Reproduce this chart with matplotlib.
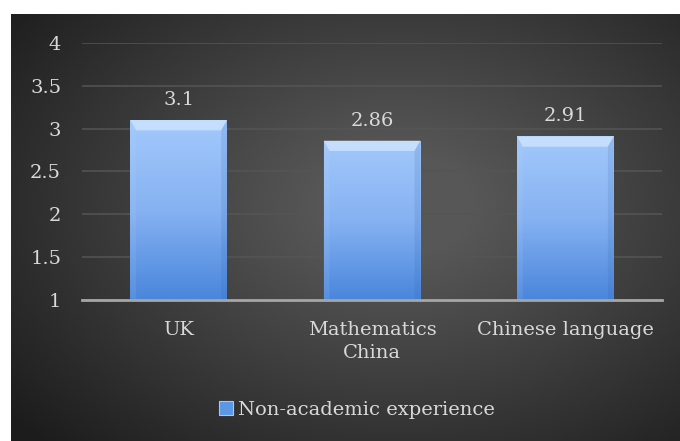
import numpy as np
import matplotlib.pyplot as plt
from matplotlib.patches import Patch, Polygon
from matplotlib.colors import LinearSegmentedColormap

categories = ['UK', 'Mathematics\nChina', 'Chinese language']
values = [3.1, 2.86, 2.91]
value_labels = ['3.1', '2.86', '2.91']
series_name = 'Non-academic experience'
yticks = [1, 1.5, 2, 2.5, 3, 3.5, 4]

txt = '#d9d9d9'
font = 'DejaVu Serif'
fs = 14

fig = plt.figure(figsize=(6.8, 4.41), dpi=100)
fig.patch.set_facecolor('white')

# dark background with a soft radial light in the middle
bg = fig.add_axes([11 / 680, 0, 669 / 680, 427 / 441])
bg.set_axis_off()
yy, xx = np.mgrid[0:1:300j, 0:1:460j]
d = np.sqrt(((xx - 0.58) / 0.75) ** 2 + ((yy - 0.45) / 0.8) ** 2)
shade = np.clip(1 - d, 0, 1)
bg_cmap = LinearSegmentedColormap.from_list('bg', ['#1c1c1c', '#3a3a3a', '#575757'])
bg.imshow(shade, cmap=bg_cmap, aspect='auto', extent=[0, 1, 0, 1], vmin=0, vmax=0.85)

ax = fig.add_axes([82 / 680, (441 - 300) / 441, 580 / 680, 257 / 441])
ax.patch.set_alpha(0)
x = np.arange(len(categories))
bars = ax.bar(x, values, width=0.5, bottom=0, color='none', edgecolor='none', zorder=3)
ax.set_ylim(1, 4)
ax.set_xlim(-0.5, len(categories) - 0.5)

bar_cmap = LinearSegmentedColormap.from_list('bar', ['#a3c9fb', '#86b2f2', '#4a86dc'])
grad = np.linspace(0, 1, 200).reshape(-1, 1)
for b in bars:
    x0, w, top = b.get_x(), b.get_width(), b.get_height()
    im = ax.imshow(grad, cmap=bar_cmap, aspect='auto', extent=[x0, x0 + w, 1, top],
                   origin='upper', zorder=3)
    im.set_clip_path(b)
    dx = w * 0.06
    dy = 0.12
    ax.add_patch(Polygon([[x0, top], [x0 + w, top], [x0 + w - dx, top - dy], [x0 + dx, top - dy]],
                         closed=True, facecolor='#d6e8ff', edgecolor='none', alpha=0.7, zorder=4))
    ax.add_patch(Polygon([[x0, top], [x0 + dx, top - dy], [x0 + dx, 1], [x0, 1]],
                         closed=True, facecolor='#bcd7fb', edgecolor='none', alpha=0.12, zorder=4))
    ax.add_patch(Polygon([[x0 + w, top], [x0 + w - dx, top - dy], [x0 + w - dx, 1], [x0 + w, 1]],
                         closed=True, facecolor='#2f5fa8', edgecolor='none', alpha=0.15, zorder=4))

for xi, v, lab in zip(x, values, value_labels):
    ax.text(xi, v + 0.13, lab, ha='center', va='bottom', color=txt, fontsize=fs, family=font)

ax.set_yticks(yticks)
ax.set_yticklabels([f'{t:g}' for t in yticks], family=font, fontsize=fs, color=txt)
ax.set_xticks(x)
ax.set_xticklabels(categories, family=font, fontsize=fs, color=txt, linespacing=1.35)
ax.tick_params(axis='both', length=0)
ax.tick_params(axis='y', pad=15)
ax.tick_params(axis='x', pad=15)
ax.yaxis.grid(True, color='#555555', linewidth=1.1, zorder=0)
ax.set_axisbelow(True)
for s in ['top', 'right', 'left']:
    ax.spines[s].set_visible(False)
ax.spines['bottom'].set_color('#a6a6a6')
ax.spines['bottom'].set_linewidth(2)
ax.spines['bottom'].set_zorder(5)

handle = Patch(facecolor='#5b97e6', edgecolor='#a3c9fb', linewidth=0.8)
leg = fig.legend([handle], [series_name], loc='center', bbox_to_anchor=(357 / 680, 1 - 410 / 441),
                 frameon=False, prop={'family': font, 'size': fs}, handlelength=0.7,
                 handleheight=0.7, handletextpad=0.25)
for t in leg.get_texts():
    t.set_color(txt)

fig.savefig('out.png', dpi=100, facecolor=fig.get_facecolor())
